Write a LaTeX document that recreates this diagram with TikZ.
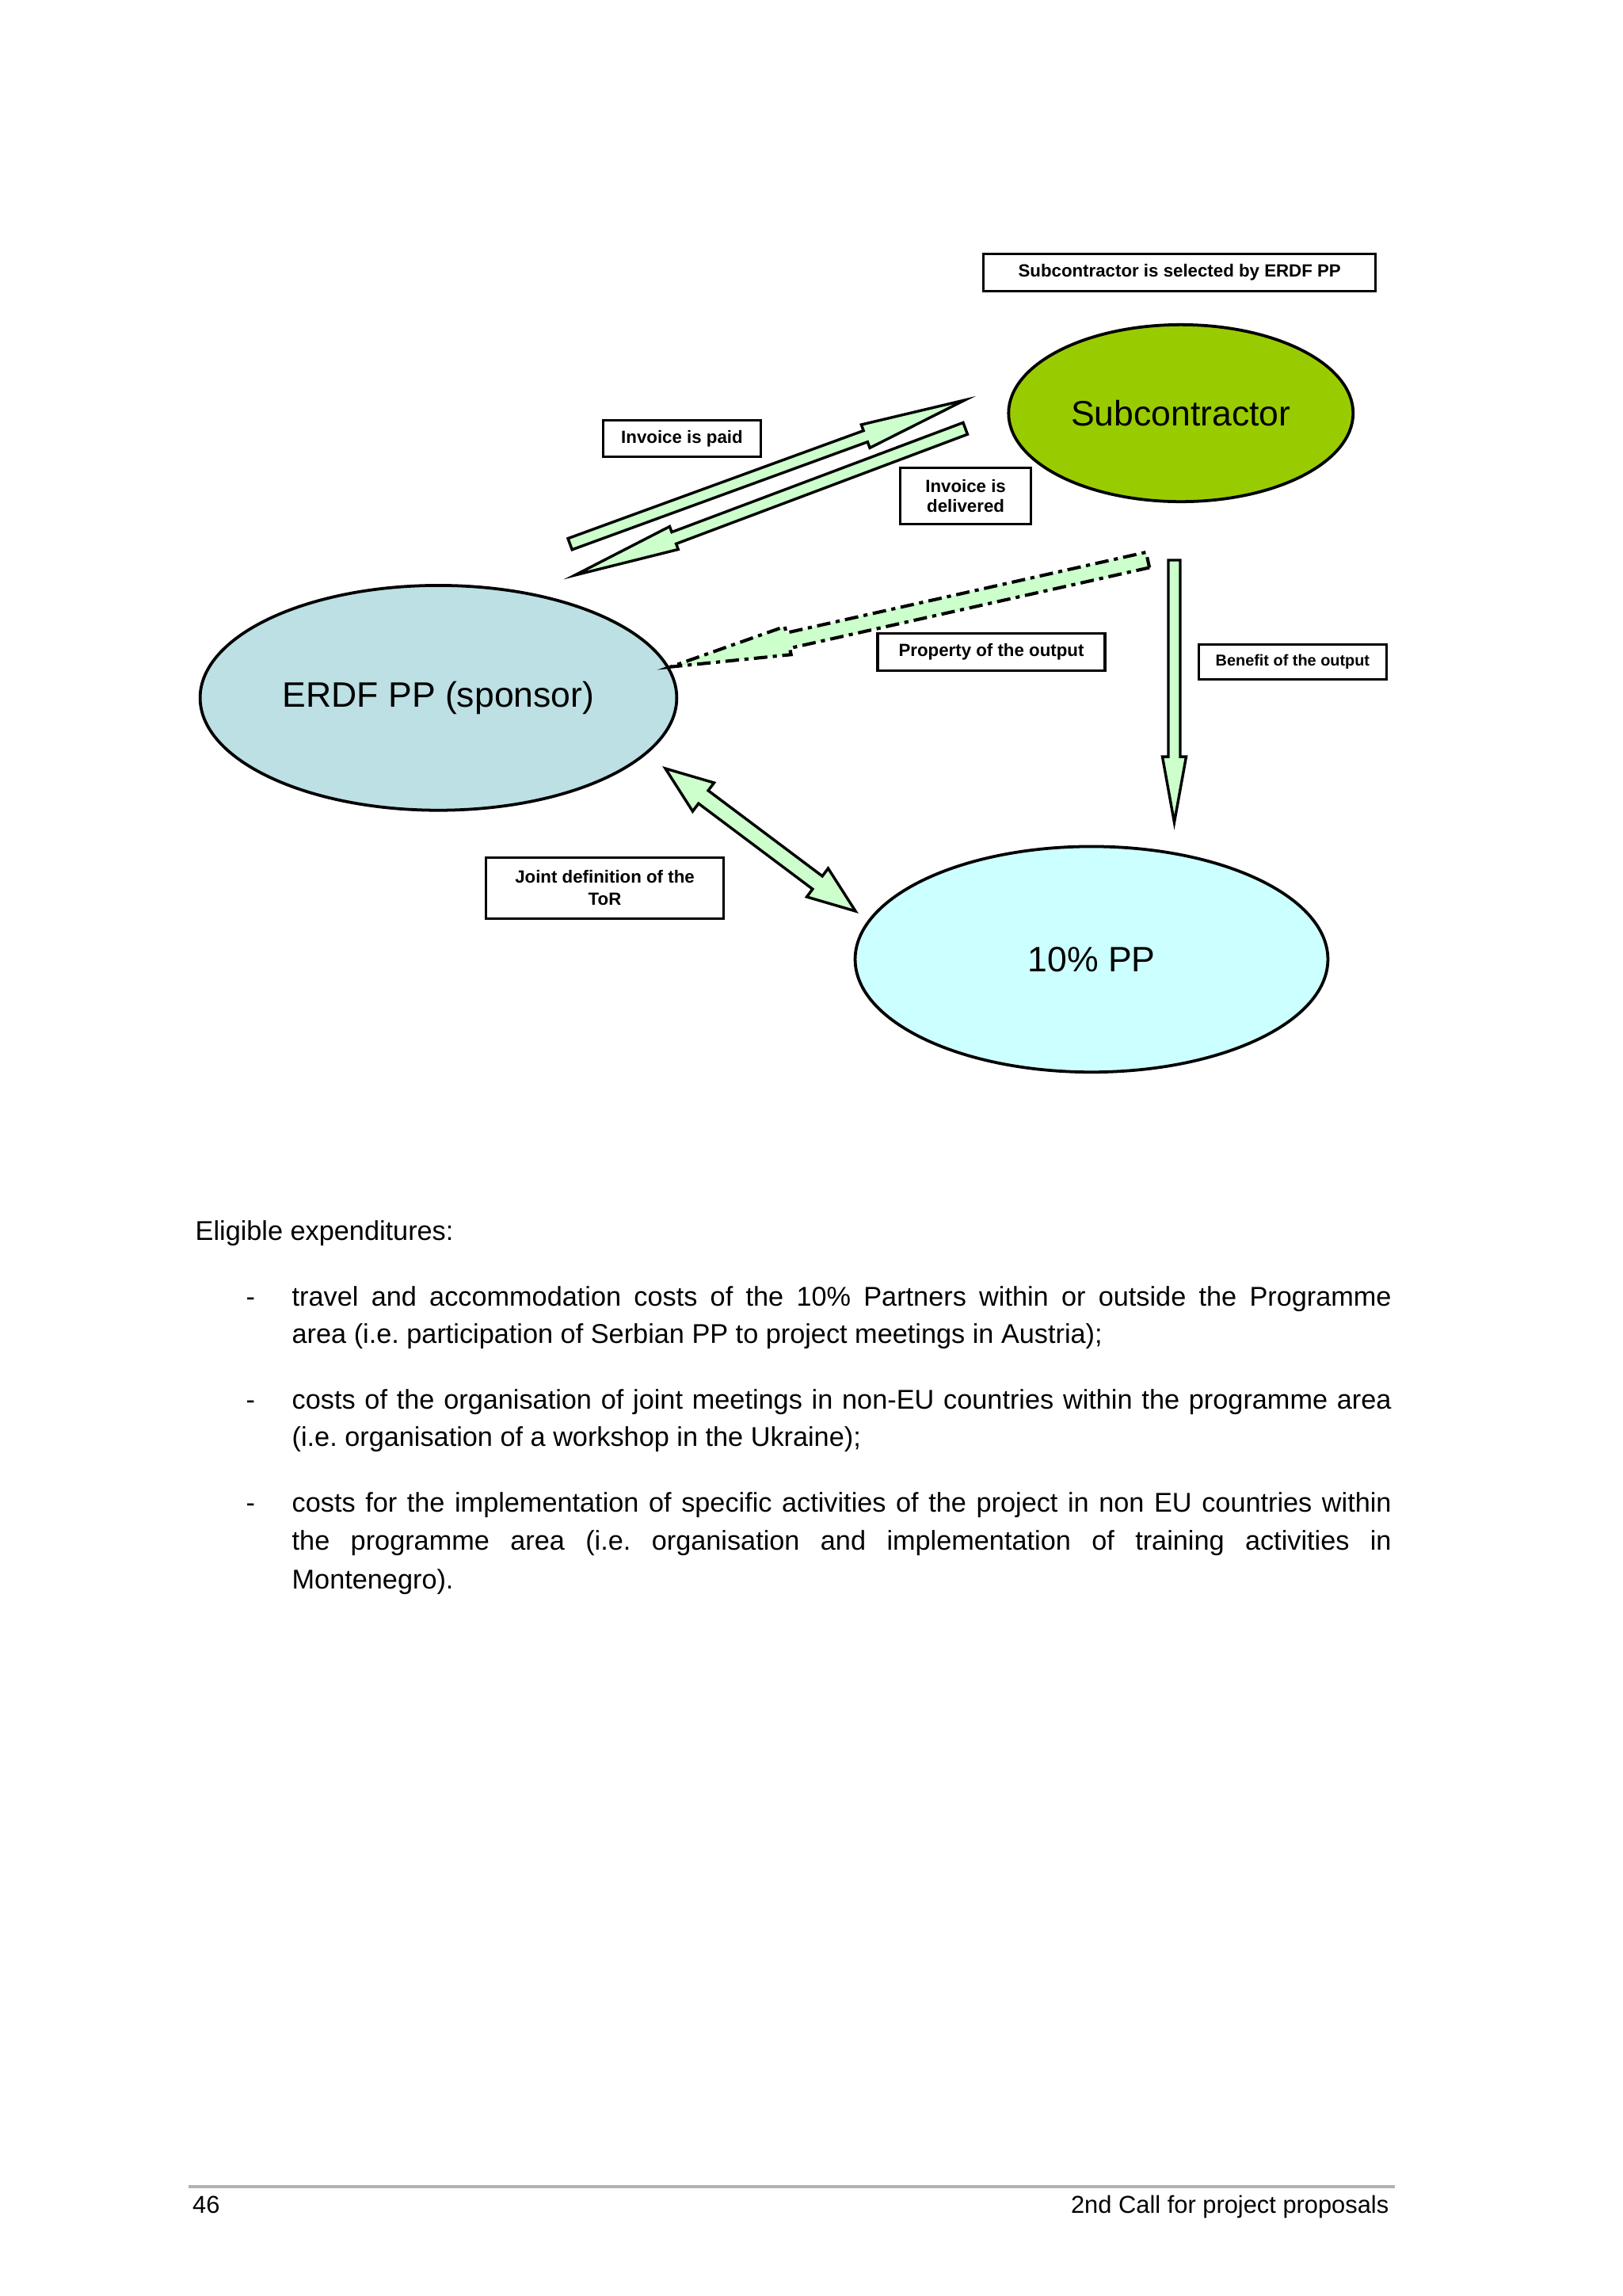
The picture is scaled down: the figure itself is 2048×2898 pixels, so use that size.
\documentclass[tikz,border=0pt]{standalone}
\usepackage{fontspec}
\setmainfont{Liberation Sans}
\usetikzlibrary{calc,shapes.geometric}
\definecolor{erdfc}{RGB}{188,224,228}
\definecolor{subc}{RGB}{153,204,0}
\definecolor{ppc}{RGB}{204,255,255}
\definecolor{arrc}{RGB}{204,255,204}
% block arrow: #1 style, #2 tail, #3 tip, #4 shaft half width, #5 head length, #6 head half width
\newcommand\blkarrow[6]{%
  \coordinate (#2-base) at ($(#3)!#5!(#2)$);
  \path[#1] ($(#2)!#4!90:(#3)$) -- ($(#2-base)!#4!90:(#3)$) -- ($(#2-base)!#6!90:(#3)$) -- (#3)
    -- ($(#2-base)!#6!-90:(#3)$) -- ($(#2-base)!#4!-90:(#3)$) -- ($(#2)!#4!-90:(#3)$) -- cycle;}
% double block arrow
\newcommand\dblarrow[6]{%
  \coordinate (#2-bA) at ($(#2)!#5!(#3)$);
  \coordinate (#2-bB) at ($(#3)!#5!(#2)$);
  \path[#1] (#2) -- ($(#2-bA)!#6!90:(#3)$) -- ($(#2-bA)!#4!90:(#3)$) -- ($(#2-bB)!#4!90:(#3)$)
    -- ($(#2-bB)!#6!90:(#3)$) -- (#3) -- ($(#2-bB)!#6!-90:(#3)$) -- ($(#2-bB)!#4!-90:(#3)$)
    -- ($(#2-bA)!#4!-90:(#3)$) -- ($(#2-bA)!#6!-90:(#3)$) -- cycle;}
\begin{document}
\frenchspacing
\begin{tikzpicture}[x=0.010254cm,y=-0.010254cm,
  bubble/.style={ellipse, draw=black, line width=1.1pt, inner sep=0pt, font=\fontsize{13}{15}\selectfont},
  lbl/.style={draw=black, line width=0.9pt, rectangle, inner sep=0pt, align=center, font=\fontsize{6.5}{7.5}\selectfont\bfseries},
  blk/.style={fill=arrc, draw=black, line width=1pt, line join=miter},
  blkdash/.style={blk, line width=1.2pt, dash pattern=on 5pt off 2pt on 1.5pt off 2pt},
  body/.style={anchor=base west, inner sep=0pt, font=\fontsize{10}{12}\selectfont\frenchspacing},
  foot/.style={inner sep=0pt, font=\fontsize{9}{11}\selectfont}]
\path[fill=white] (0,0) rectangle (2048,2898);

% bubbles
\node[bubble, fill=erdfc, minimum width=6.17cm, minimum height=2.91cm] (erdf) at (553.5,880.8) {ERDF PP (sponsor)};
\node[bubble, fill=subc, minimum width=4.46cm, minimum height=2.29cm] (sub) at (1490.8,521.5) {Subcontractor};
\node[bubble, fill=ppc, minimum width=6.12cm, minimum height=2.92cm] (pp10) at (1378,1210.8) {10\% PP};

% labels
\node[lbl, minimum width=5.078cm, minimum height=0.489cm] (lsel) at (1489.2,343.9) {Subcontractor is selected by ERDF PP};
\node[lbl, minimum width=2.044cm, minimum height=0.479cm] (lpaid) at (861,553.4) {Invoice is paid};
\node[lbl, minimum width=1.698cm, minimum height=0.735cm] (ldeliv) at (1219.1,625.9) {Invoice is\\delivered};
\node[lbl, minimum width=2.943cm, minimum height=0.479cm] (lprop) at (1251.5,822.7) {Property of the output};
\node[lbl, minimum width=2.423cm, minimum height=0.451cm, font=\fontsize{5.8}{7}\selectfont\bfseries] (lbenef) at (1631.9,835.3) {Benefit of the output};
\node[lbl, minimum width=3.075cm, minimum height=0.786cm, font=\fontsize{6.5}{8}\selectfont\bfseries] (ljoint) at (763.5,1120.7) {Joint definition of the\\ToR};

% arrow end points
\coordinate (a1t) at (719.6,686.7);
\coordinate (a1h) at (1218,505);
\coordinate (a2t) at (1218.7,540.8);
\coordinate (a2h) at (725.7,726);
\coordinate (a3t) at (1449,706.7);
\coordinate (a3h) at (846.6,841.7);
\coordinate (a4t) at (1482.5,707);
\coordinate (a4h) at (1482.5,1038);
\coordinate (a5a) at (840,970);
\coordinate (a5b) at (1080,1150);

\blkarrow{blk}{a1t}{a1h}{2.2pt}{38.9pt}{4.55pt}
\blkarrow{blk}{a2t}{a2h}{2.3pt}{39pt}{4.5pt}
\blkarrow{blkdash}{a3t}{a3h}{2.9pt}{44.3pt}{5.3pt}
\blkarrow{blk}{a4t}{a4h}{2.19pt}{24.2pt}{4.38pt}
\dblarrow{blk}{a5a}{a5b}{2.98pt}{17.5pt}{6.56pt}

% body text
\node[body] (t0) at (246,1565) {Eligible expenditures:};
\node[body] (b1) at (310,1648.3) {-};
\node[body] (t1) at (368,1648.3) {\makebox[14.233cm][s]{travel and accommodation costs of the 10\% Partners within or outside the Programme}};
\node[body] (t2) at (368,1695) {area (i.e. participation of Serbian PP to project meetings in Austria);};
\node[body] (b2) at (310,1778.3) {-};
\node[body] (t3) at (368,1778.3) {\makebox[14.233cm][s]{costs of the organisation of joint meetings in non-EU countries within the programme area}};
\node[body] (t4) at (368,1825) {(i.e. organisation of a workshop in the Ukraine);};
\node[body] (b3) at (310,1908.3) {-};
\node[body] (t5) at (368,1908.3) {\makebox[14.233cm][s]{costs for the implementation of specific activities of the project in non EU countries within}};
\node[body] (t6) at (368,1956.7) {\makebox[14.233cm][s]{the programme area (i.e. organisation and implementation of training activities in}};
\node[body] (t7) at (368,2005) {Montenegro).};

% footer
\coordinate (fl) at (238,2760);
\coordinate (fr) at (1761,2760);
\draw[gray!60, line width=1pt] (fl) -- (fr);
\node[foot, anchor=base west] (pg) at (242.5,2793) {46};
\node[foot, anchor=base east] (ft) at (1754,2793) {2nd Call for project proposals};
\end{tikzpicture}
\end{document}
